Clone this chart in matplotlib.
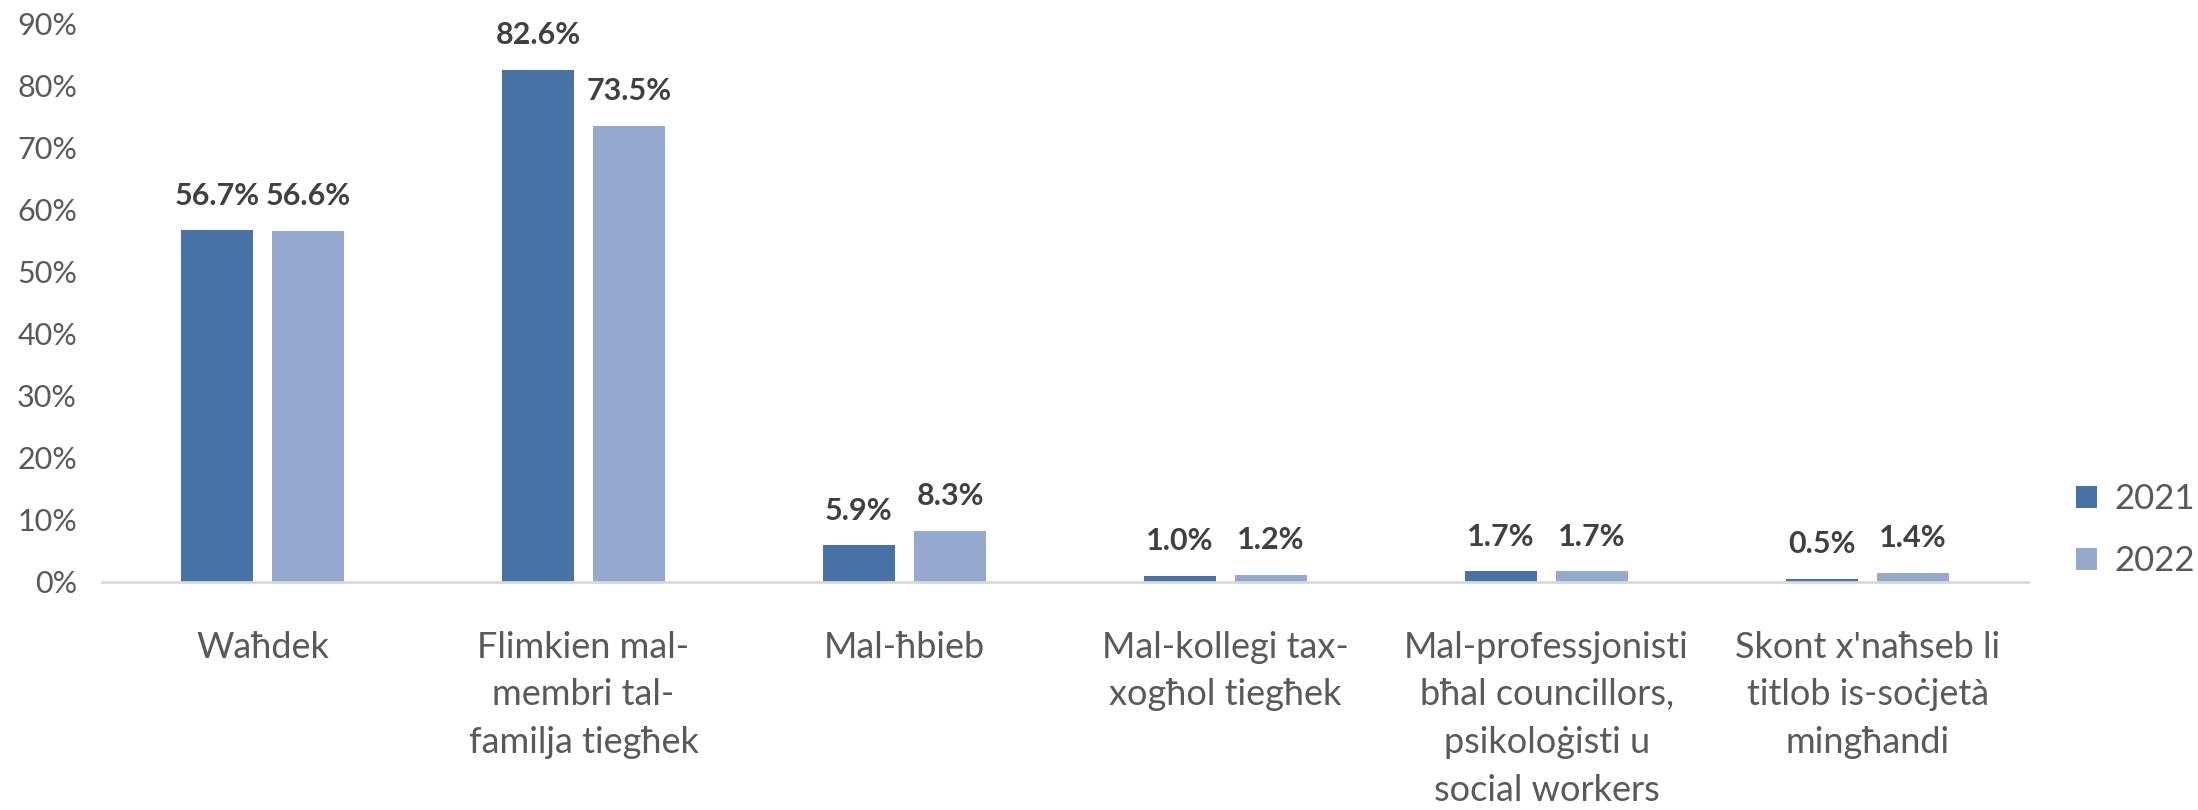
import matplotlib.pyplot as plt
import numpy as np

plt.rcParams['font.family'] = ['Lato', 'DejaVu Sans']

categories = ['Waħdek', 'Flimkien mal-\nmembri tal-\nfamilja tiegħek', 'Mal-ħbieb',
              'Mal-kollegi tax-\nxogħol tiegħek', 'Mal-professjonisti\nbħal councillors,\npsikoloġisti u\nsocial workers',
              "Skont x'naħseb li\ntitlob is-soċjetà\nmingħandi"]
vals_2021 = [56.7, 82.6, 5.9, 1.0, 1.7, 0.5]
vals_2022 = [56.6, 73.5, 8.3, 1.2, 1.7, 1.4]
years = ['2021', '2022']
colors = ['#4672A6', '#95A9CF']

fig = plt.figure(figsize=(21.98, 8.10), dpi=100)
ax = fig.add_axes([0.0464, 0.2815, 0.8763, 0.6889])

x = np.arange(len(categories))
w = 0.223
off = 0.142
b1 = ax.bar(x - off, vals_2021, w, color=colors[0], label=years[0])
b2 = ax.bar(x + off, vals_2022, w, color=colors[1], label=years[1])

for bars, vals in [(b1, vals_2021), (b2, vals_2022)]:
    for b, v in zip(bars, vals):
        ax.annotate(f'{v:.1f}%', (b.get_x() + b.get_width() / 2, v),
                    xytext=(0, 15), textcoords='offset points',
                    ha='center', va='bottom', fontsize=22, fontweight='bold', color='#404040')

ax.set_xlim(-0.5, len(categories) - 0.5)
ax.set_ylim(0, 90)
ax.set_yticks(range(0, 91, 10))
ax.set_yticklabels([f'{t}%' for t in range(0, 91, 10)], fontsize=22, color='#595959')
ax.set_xticks(x)
ax.set_xticklabels(categories, fontsize=26, color='#595959', linespacing=1.55)
ax.tick_params(axis='x', length=0, pad=35)
ax.tick_params(axis='y', length=0, pad=18)

for s in ['top', 'right', 'left']:
    ax.spines[s].set_visible(False)
ax.spines['bottom'].set_color('#D9D9D9')
ax.spines['bottom'].set_linewidth(2)

ax.legend(loc='center left', bbox_to_anchor=(1.0125, 0.093), frameon=False, fontsize=25,
          labelcolor='#595959', handlelength=0.6, handleheight=0.6, labelspacing=0.85,
          handletextpad=0.5, borderaxespad=0.3)

fig.savefig('out.png', dpi=100)
